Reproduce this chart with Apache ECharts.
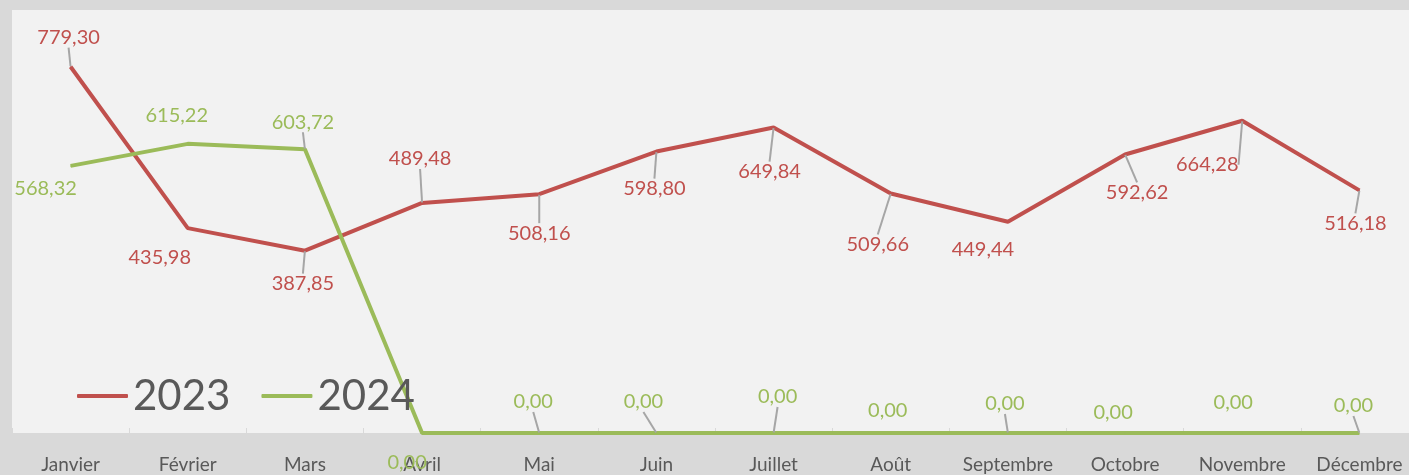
<!DOCTYPE html>
<html>
<head>
<meta charset="utf-8">
<script src="https://cdn.jsdelivr.net/npm/echarts@6/dist/echarts.min.js"></script>
<style>
  html, body { margin: 0; padding: 0; background: #d9d9d9; overflow: hidden; }
  /* la zone de tracé déborde un peu à droite, comme dans l'original */
  #myChart { width: 1418px; height: 475px; }
</style>
</head>
<body>
<div id="myChart"></div>
<script>
const months = ['Janvier', 'Février', 'Mars', 'Avril', 'Mai', 'Juin', 'Juillet', 'Août', 'Septembre', 'Octobre', 'Novembre', 'Décembre']
const values2023 = [779.30, 435.98, 387.85, 489.48, 508.16, 598.80, 649.84, 509.66, 449.44, 592.62, 664.28, 516.18]
const values2024 = [568.32, 615.22, 603.72, 0, 0, 0, 0, 0, 0, 0, 0, 0]

// placement des étiquettes (décalage par rapport au point) et traits de rappel
const offsets2023 = [[-2, -29], [-28, 29], [-2, 33], [-2, -44], [0, 39], [-2, 37], [-4, 44], [-13, 51], [-25, 28], [12, 38], [-35, 44], [-4, 33]]
const offsets2024 = [[-25, 23], [-11, -28], [-2, -27], [-15, 30], [-6, -31], [-13, -31], [4, -36], [-3, -22], [-3, -29], [-12, -20], [-9, -30], [-6, -27]]
const leaders2023 = [true, false, true, true, true, true, true, true, false, true, true, true]
const leaders2024 = [false, false, true, false, true, true, true, false, true, false, false, true]

const fontName = 'Lato'

function buildData(values, leaders) {
  return values.map((v, i) => ({
    value: v,
    labelLine: { show: leaders[i] }
  }))
}

function fmt(p) {
  return p.value.toFixed(2).replace('.', ',')
}

const myChart = echarts.init(document.getElementById('myChart'))
const option = {
  backgroundColor: '#d9d9d9',
  animation: false,
  legend: {
    left: 72,
    top: 370,
    itemWidth: 51,
    itemHeight: 4,
    itemGap: 31,
    icon: 'roundRect',
    textStyle: {
      fontFamily: fontName,
      fontSize: 42,
      color: '#595959'
    },
    data: ['2023', '2024']
  },
  grid: {
    left: 12,
    right: 0,
    top: 10,
    bottom: 42,
    show: true,
    backgroundColor: '#f2f2f2',
    borderWidth: 0
  },
  xAxis: {
    type: 'category',
    boundaryGap: true,
    data: months,
    axisLine: {
      show: true,
      lineStyle: { color: '#d9d9d9', width: 1 }
    },
    axisTick: {
      show: true,
      inside: true,
      interval: 0,
      length: 5,
      lineStyle: { color: '#d9d9d9', width: 1 }
    },
    axisLabel: {
      interval: 0,
      margin: 22,
      fontFamily: fontName,
      fontSize: 19,
      color: '#595959'
    }
  },
  yAxis: {
    type: 'value',
    min: 0,
    max: 900,
    show: false,
    splitLine: { show: false }
  },
  series: [
    {
      name: '2023',
      type: 'line',
      clip: false,
      symbol: 'circle',
      symbolSize: 1,
      showAllSymbol: true,
      lineStyle: { color: '#c0504d', width: 4 },
      itemStyle: { color: '#c0504d' },
      label: {
        show: true,
        position: 'inside',
        formatter: fmt,
        fontFamily: fontName,
        fontSize: 20,
        color: '#c0504d'
      },
      labelLine: {
        lineStyle: { color: '#a6a6a6', width: 2 }
      },
      labelLayout: function (params) {
        const o = offsets2023[params.dataIndex]
        return { dx: o[0], dy: o[1] }
      },
      data: buildData(values2023, leaders2023)
    },
    {
      name: '2024',
      type: 'line',
      clip: false,
      symbol: 'circle',
      symbolSize: 1,
      showAllSymbol: true,
      lineStyle: { color: '#9bbb59', width: 4 },
      itemStyle: { color: '#9bbb59' },
      label: {
        show: true,
        position: 'inside',
        formatter: fmt,
        fontFamily: fontName,
        fontSize: 20,
        color: '#9bbb59'
      },
      labelLine: {
        lineStyle: { color: '#a6a6a6', width: 2 }
      },
      labelLayout: function (params) {
        const o = offsets2024[params.dataIndex]
        return { dx: o[0], dy: o[1] }
      },
      data: buildData(values2024, leaders2024)
    }
  ]
}
myChart.setOption(option)
</script>
</body>
</html>
